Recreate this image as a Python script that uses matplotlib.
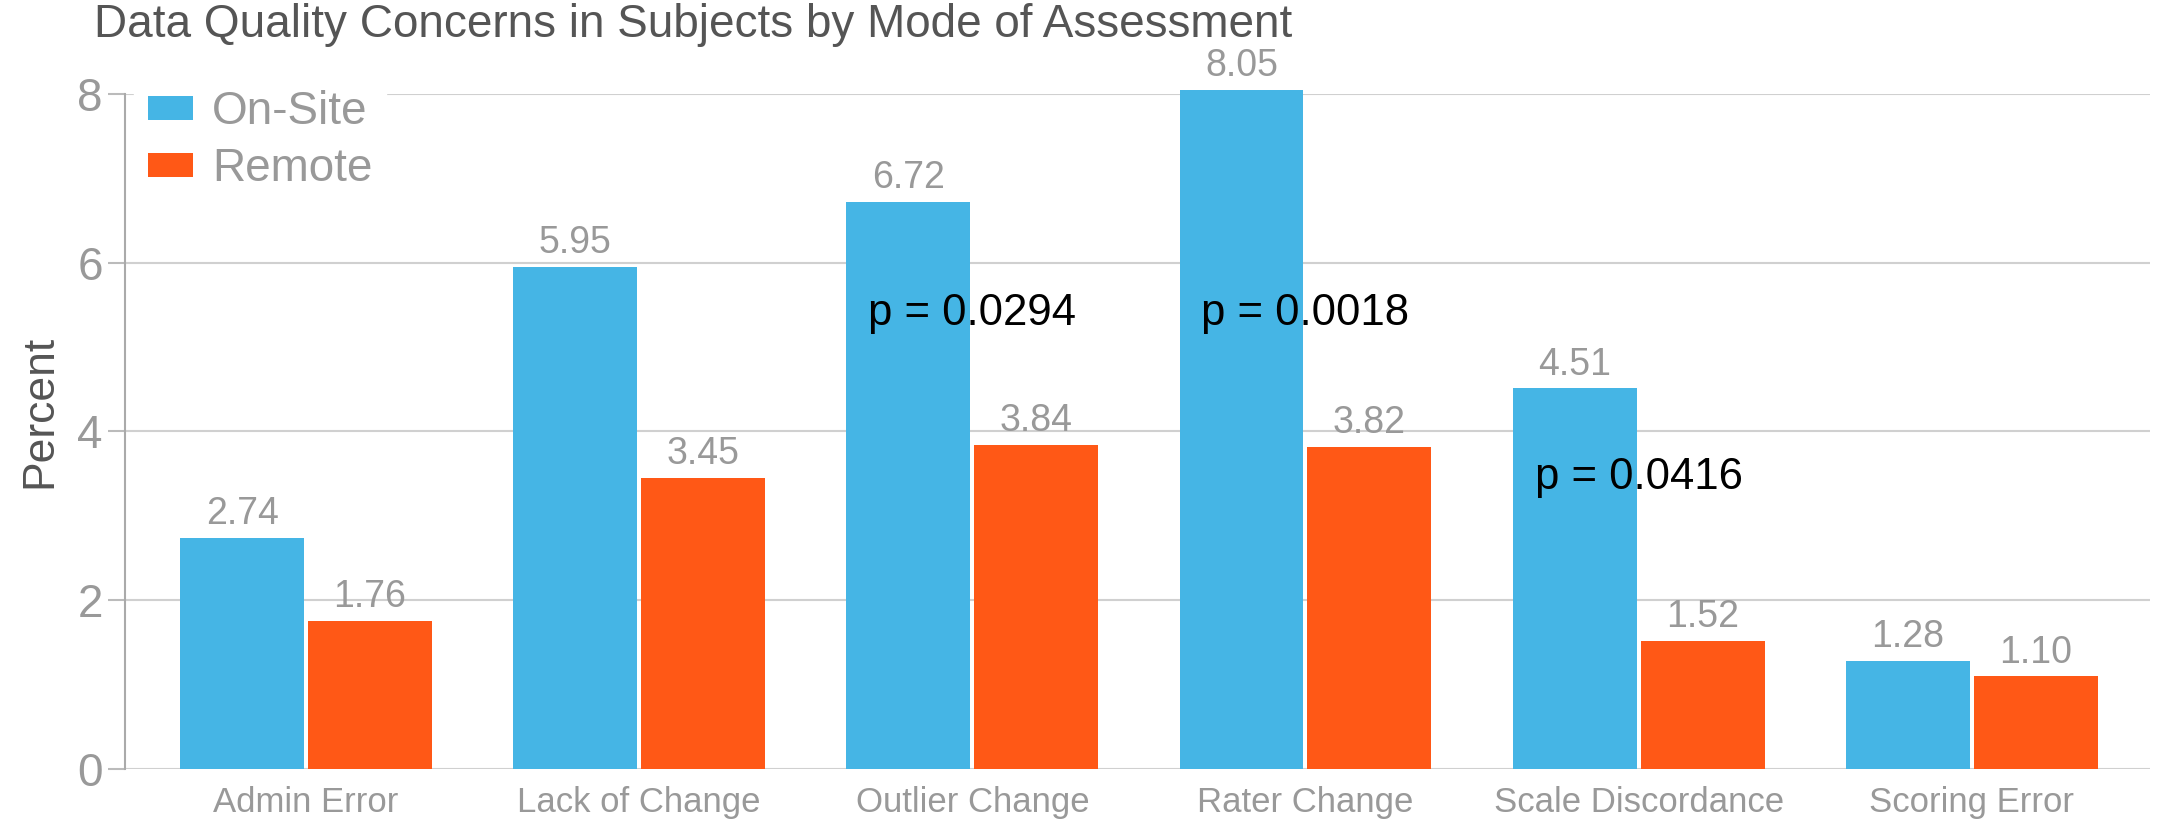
import numpy as np
import matplotlib
matplotlib.use("Agg")
import matplotlib.pyplot as plt

plt.rcParams['font.family'] = ['Liberation Sans', 'DejaVu Sans']

categories = ["Admin Error", "Lack of Change", "Outlier Change",
              "Rater Change", "Scale Discordance", "Scoring Error"]
onsite = [2.74, 5.95, 6.72, 8.05, 4.51, 1.28]
remote = [1.76, 3.45, 3.84, 3.82, 1.52, 1.10]
p_labels = ["", "", "p = 0.0294", "p = 0.0018", "p = 0.0416", ""]
p_y = [0, 0, 5.4, 5.4, 3.45, 0]

blue = "#45B5E5"
orange = "#FF5816"
grey = "#999999"
dark = "#555555"

fig = plt.figure(figsize=(21.58, 8.24), dpi=100)
ax = fig.add_axes([0.058, 0.0667, 0.9383, 0.8193])

x = np.arange(len(categories))
w = 0.372
off = 0.192
b1 = ax.bar(x - off, onsite, w, color=blue, label="On-Site", clip_on=False, zorder=2)
b2 = ax.bar(x + off, remote, w, color=orange, label="Remote", clip_on=False, zorder=2)

for bars, vals in ((b1, onsite), (b2, remote)):
    for r, v in zip(bars, vals):
        ax.annotate(f"{v:.2f}", (r.get_x() + r.get_width() / 2, v),
                    xytext=(0, 4), textcoords="offset points",
                    ha="center", va="bottom", fontsize=27, color=grey,
                    annotation_clip=False)

for i, (t, yv) in enumerate(zip(p_labels, p_y)):
    if t:
        ax.text(i, yv, t, ha="center", va="center", fontsize=31.5,
                color="black", zorder=5)

ax.set_xlim(-0.543, 5.535)
ax.set_ylim(0, 8)
ax.set_yticks([0, 2, 4, 6, 8])
ax.set_xticks(x)
ax.set_xticklabels(categories)
ax.tick_params(axis="x", length=0, labelsize=25, labelcolor=grey, pad=12)
ax.tick_params(axis="y", length=12, width=1.5, color="#bbbbbb",
               labelsize=33, labelcolor=grey, pad=4)
ax.grid(axis="y", color="#d0d0d0", linewidth=1.5, zorder=0)
ax.set_axisbelow(True)

for s in ("top", "right", "bottom"):
    ax.spines[s].set_visible(False)
ax.spines["left"].set_color("#aaaaaa")
ax.spines["left"].set_linewidth(1.5)

ax.set_ylabel("Percent", fontsize=32, color=dark)
ax.yaxis.set_label_coords(-0.032, 0.53)
fig.text(0.0436, 0.97, "Data Quality Concerns in Subjects by Mode of Assessment",
         fontsize=33, color=dark, ha="left", va="center")

leg = ax.legend(loc="upper left", bbox_to_anchor=(-0.007, 1.06), fontsize=33,
                frameon=True, framealpha=1, edgecolor="white", fancybox=False,
                handlelength=1.0, handleheight=0.44, handletextpad=0.4,
                labelspacing=0.29, borderpad=0.3)
for t in leg.get_texts():
    t.set_color(grey)

fig.savefig("out.png", dpi=100)
